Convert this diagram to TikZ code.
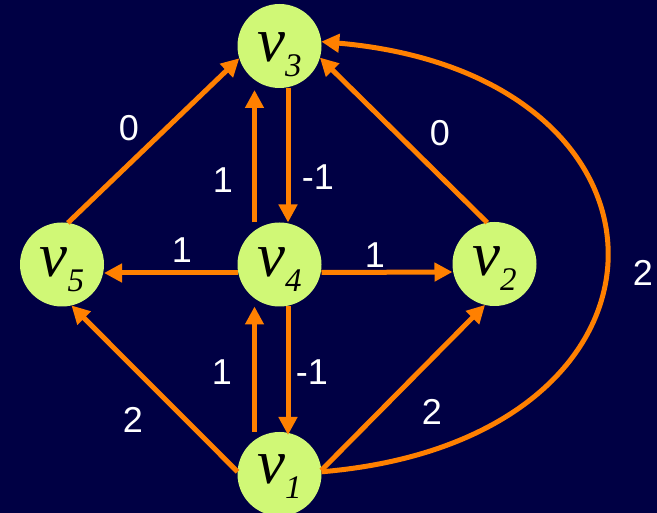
\documentclass[tikz,border=0pt]{standalone}
\usepackage{fontspec}
\setmainfont{Liberation Sans}
\newfontfamily\vserif{Liberation Serif}
\usetikzlibrary{arrows.meta}
\definecolor{bgnavy}{RGB}{0,0,68}
\definecolor{vgreen}{RGB}{208,248,118}
\definecolor{eorange}{RGB}{255,128,0}
\newcommand{\vlab}[1]{{\vserif\itshape\fontsize{63}{63}\selectfont v}\raisebox{-15pt}{\vserif\itshape\fontsize{33}{33}\selectfont #1}}
\begin{document}
\begin{tikzpicture}[x=1pt,y=-1pt,
  vert/.style={circle, fill=vgreen, minimum size=84pt, inner sep=0pt, outer sep=0pt, text height=28pt, text depth=4pt},
  edge/.style={draw=eorange, line width=5pt, -{Triangle[width=18pt,length=18pt]}},
  wlab/.style={text=white, font=\fontsize{36}{36}\selectfont, inner sep=0pt}]
\fill[bgnavy] (0,0) rectangle (657,513);
\useasboundingbox (0,0) rectangle (657,513);

\node[vert, text height=32pt, text depth=0pt] (v3) at (279.5,46) {\vlab{3}};
\node[vert] (v5) at (62,264.5) {\vlab{5}};
\node[vert] (v4) at (279.5,264.5) {\vlab{4}};
\node[vert] (v2) at (494.5,264) {\vlab{2}};
\node[vert, text height=26pt, text depth=8pt] (v1) at (279.5,474) {\vlab{1}};

% edges
\draw[edge] (v5.82) -- (v3.197);
\draw[edge] ([xshift=-25pt]v4.north) -- ([xshift=-25pt,yshift=-2pt]v3.south);
\draw[edge] ([xshift=8.5pt]v3.south) -- ([xshift=8.5pt]v4.north);
\draw[edge] ([yshift=-8.5pt]v4.west) -- ([yshift=-8.5pt]v5.east);
\draw[edge] ([yshift=-8pt]v4.east) -- ([yshift=-8pt]v2.west);
\draw[edge] (v2.100) -- (v3.-16);
\draw[edge] ([xshift=-25pt]v1.north) -- ([xshift=-25pt]v4.south);
\draw[edge] ([xshift=8.5pt]v4.south) -- ([xshift=8.5pt,yshift=-3pt]v1.north);
\draw[edge] (v1.177) -- (v5.-77);
\draw[edge] (v1.5) -- (v2.-103);
\draw[edge] (v1.3) .. controls (701,440) and (701,75) .. (v3.6);

% labels
\node[wlab] (l53) at (129,128) {0};
\node[wlab] (l43) at (223,180) {1};
\node[wlab] (l34) at (318,177) {-1};
\node[wlab] (l45) at (182,250) {1};
\node[wlab] (l42) at (375,255) {1};
\node[wlab] (l23) at (440,133) {0};
\node[wlab] (l14) at (222,372) {1};
\node[wlab] (l41) at (312,372) {-1};
\node[wlab] (l15) at (133,420) {2};
\node[wlab] (l12) at (432,412) {2};
\node[wlab] (l13) at (643,273) {2};
\end{tikzpicture}
\end{document}
